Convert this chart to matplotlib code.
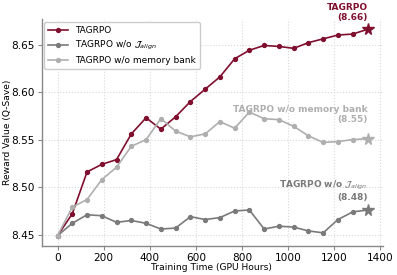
import matplotlib
matplotlib.use("Agg")
import matplotlib.pyplot as plt
import numpy as np

hours = [0, 64, 128, 192, 256, 320, 384, 448, 512, 576, 640, 704, 768, 832,
         896, 960, 1024, 1088, 1152, 1216, 1280, 1344]
tagrpo = [8.449, 8.472, 8.516, 8.524, 8.529, 8.556, 8.573, 8.561, 8.574, 8.590, 8.603,
          8.616, 8.635, 8.644, 8.649, 8.648, 8.646, 8.652, 8.656, 8.660, 8.661, 8.666]
no_align = [8.449, 8.462, 8.471, 8.470, 8.463, 8.465, 8.462, 8.456, 8.457, 8.469, 8.466,
            8.468, 8.475, 8.476, 8.456, 8.459, 8.458, 8.454, 8.452, 8.466, 8.474, 8.476]
no_mem = [8.449, 8.479, 8.487, 8.508, 8.521, 8.543, 8.550, 8.572, 8.559, 8.553, 8.556,
          8.569, 8.562, 8.579, 8.572, 8.571, 8.564, 8.554, 8.547, 8.548, 8.550, 8.551]
names = ["TAGRPO", r"TAGRPO w/o $\mathcal{J}_{align}$", "TAGRPO w/o memory bank"]
ann_texts = ["TAGRPO\n(8.66)", "TAGRPO w/o $\\mathcal{J}_{align}$\n(8.48)",
             "TAGRPO w/o memory bank\n(8.55)"]
ann_offsets = [0.0075, 0.0085, 0.0155]
colors = ["#800F2F", "#7A7A7A", "#AFAFAF"]

fig = plt.figure(figsize=(3.97, 2.75), dpi=100)
ax = fig.add_axes([42/397, 1-246/275, (383-42)/397, (246-19)/275])

series = [tagrpo, no_align, no_mem]
handles = []
for ys, name, c in zip(series, names, colors):
    h, = ax.plot(hours[:-1], ys[:-1], color=c, lw=1.2, marker='o', ms=2.8, label=name)
    handles.append(h)
    ax.plot(hours[-2:], ys[-2:], color=c, lw=1.2)
    ax.plot(hours[-1], ys[-1], color=c, marker='*', ms=8.5, ls='none')

ax.margins(x=0.05, y=0.05)
ax.grid(True, ls=':', color='#d8d8d8', lw=0.8)
for s in ['top', 'right']:
    ax.spines[s].set_visible(False)
for s in ['left', 'bottom']:
    ax.spines[s].set_color('#888888')
    ax.spines[s].set_linewidth(1.0)
ax.tick_params(labelsize=7.6, length=3, pad=2, color='#888888')
ax.set_xticks([0, 200, 400, 600, 800, 1000, 1200, 1400])
ax.set_yticks([8.45, 8.50, 8.55, 8.60, 8.65])
ax.set_xlabel("Training Time (GPU Hours)", fontsize=6.6, va='center')
ax.set_ylabel("Reward Value (Q-Save)", fontsize=6.6, va='center')
ax.xaxis.set_label_coords((211 - 42) / 341, (246 - 267.5) / 227)
ax.yaxis.set_label_coords((8 - 42) / 341, 0.5)

ax.legend(handles, names, loc='upper left', fontsize=6.5, frameon=True,
          framealpha=1, edgecolor='#cccccc', borderpad=0.45, handlelength=2.2,
          labelspacing=0.4, borderaxespad=0.2, bbox_to_anchor=(0.0, 0.993))

for ys, txt, off, c in zip(series, ann_texts, ann_offsets, colors):
    ax.text(hours[-1] + 2, ys[-1] + off, txt, color=c, fontsize=6.5,
            fontweight='bold', ha='right', va='bottom', linespacing=1.2)

fig.savefig("out.png", dpi=100)
